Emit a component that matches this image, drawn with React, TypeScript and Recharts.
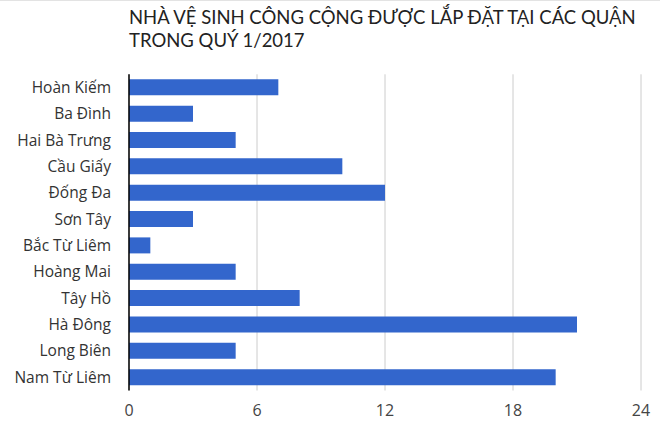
import React from 'react';
import { BarChart, Bar, XAxis, YAxis, CartesianGrid } from 'recharts';

const districts = [
  'Hoàn Kiếm',
  'Ba Đình',
  'Hai Bà Trưng',
  'Cầu Giấy',
  'Đống Đa',
  'Sơn Tây',
  'Bắc Từ Liêm',
  'Hoàng Mai',
  'Tây Hồ',
  'Hà Đông',
  'Long Biên',
  'Nam Từ Liêm',
];
const toilets = [7, 3, 5, 10, 12, 3, 1, 5, 8, 21, 5, 20];
const xTicks = [0, 6, 12, 18, 24];
const titleLines = ['NHÀ VỆ SINH CÔNG CỘNG ĐƯỢC LẮP ĐẶT TẠI CÁC QUẬN', 'TRONG QUÝ 1/2017'];

const data = districts.map((name, i) => ({ name, value: toilets[i] }));

const FONT = '"Open Sans", Lato, sans-serif';
const TITLE_FONT = 'Lato, "Open Sans", sans-serif';

export default function App() {
  return (
    <div style={{ position: 'relative', width: 660, height: 426, background: '#fff', fontFamily: FONT, overflow: 'hidden' }}>
      <style>{'body{margin:0}'}</style>
      <div style={{ position: 'absolute', left: 0, top: 0, width: 660, height: 1, background: '#e3e3e3' }} />
      <div
        style={{
          position: 'absolute',
          left: 129,
          top: 6,
          fontSize: 18.5,
          lineHeight: '23px',
          color: '#222',
          fontFamily: TITLE_FONT,
          whiteSpace: 'nowrap',
        }}
      >
        {titleLines.map((l) => (
          <div key={l}>{l}</div>
        ))}
      </div>
      <div style={{ position: 'absolute', left: 0, top: 0 }}>
        <BarChart
          width={660}
          height={426}
          data={data}
          layout="vertical"
          margin={{ top: 74.3, right: 19, bottom: 0, left: 0 }}
          barSize={16}
        >
          <CartesianGrid horizontal={false} stroke="#cccccc" />
          <XAxis
            type="number"
            domain={[0, 24]}
            ticks={xTicks}
            axisLine={false}
            tickLine={false}
            height={35.5}
            tickMargin={8}
            tick={{ fontSize: 16, fill: '#444', fontFamily: FONT }}
          />
          <YAxis
            type="category"
            dataKey="name"
            width={129}
            axisLine={{ stroke: '#000', strokeWidth: 1.5 }}
            tickLine={false}
            tickMargin={12}
            interval={0}
            tick={{ fontSize: 15.5, fill: '#333', fontFamily: FONT }}
          />
          <Bar dataKey="value" fill="#3366cc" isAnimationActive={false} />
        </BarChart>
      </div>
    </div>
  );
}
